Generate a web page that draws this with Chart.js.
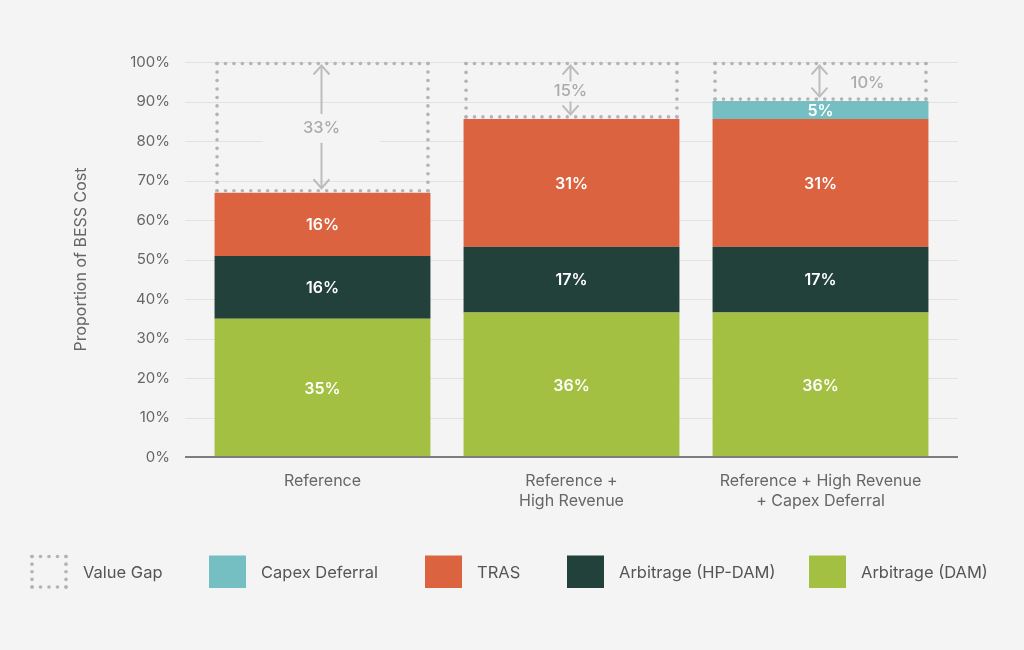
<!DOCTYPE html>
<html><head><meta charset="utf-8">
<script src="https://cdn.jsdelivr.net/npm/chart.js@4/dist/chart.umd.min.js"></script>
<style>html,body{margin:0;padding:0;background:#f4f4f4;}#wrap{width:1024px;height:650px;position:relative;}</style>
</head><body><div id="wrap"><canvas id="c" width="1024" height="650"></canvas></div>
<script>
const categories = [['Reference'], ['Reference +', 'High Revenue'], ['Reference + High Revenue', '+ Capex Deferral']];
const seriesNames = ['Arbitrage (DAM)', 'Arbitrage (HP-DAM)', 'TRAS', 'Capex Deferral', 'Value Gap'];
const damValues = [35.0, 36.6, 36.6];
const hpDamValues = [15.9, 16.6, 16.6];
const trasValues = [16.0, 32.4, 32.4];
const capexValues = [null, null, 4.5];
const gapValues = [33.1, 14.4, 9.9];
const damLabels = ['35%', '36%', '36%'];
const hpDamLabels = ['16%', '17%', '17%'];
const trasLabels = ['16%', '31%', '31%'];
const capexLabels = ['', '', '5%'];
const gapLabels = ['33%', '15%', '10%'];
const yTickLabels = ['0%', '10%', '20%', '30%', '40%', '50%', '60%', '70%', '80%', '90%', '100%'];

const colors = ['#a3c043', '#22413b', '#db6340', '#75bfc2'];
const BG = '#f4f4f4';
Chart.defaults.font.family = 'Inter, "Noto Sans", sans-serif';

function dotLine(ctx, x1, y1, x2, y2, sp, r) {
  const len = Math.hypot(x2 - x1, y2 - y1);
  const n = Math.max(1, Math.round(len / sp));
  for (let i = 0; i <= n; i++) {
    const t = i / n;
    ctx.beginPath();
    ctx.arc(x1 + (x2 - x1) * t, y1 + (y2 - y1) * t, r, 0, Math.PI * 2);
    ctx.fill();
  }
}
function dotRect(ctx, l, t, r, b, sp, rad) {
  dotLine(ctx, l, t, r, t, sp, rad);
  dotLine(ctx, l, b, r, b, sp, rad);
  dotLine(ctx, l, t, l, b, sp, rad);
  dotLine(ctx, r, t, r, b, sp, rad);
}

// per-bar label placement for the value gap: [mode, bg half-width pad, bg half-height]
const gapLabelStyle = [['center', 40, 14.5], ['center', 4, 10], ['side', 0, 0]];

const customPlugin = {
  id: 'custom',
  beforeDatasetsDraw(chart) {
    const ctx = chart.ctx, y = chart.scales.y, a = chart.chartArea;
    ctx.save();
    ctx.strokeStyle = '#e2e2e2';
    ctx.lineWidth = 1;
    for (let i = 1; i < yTickLabels.length; i++) {
      const py = Math.round(y.getPixelForValue(i * 10)) + 0.5;
      ctx.beginPath();
      ctx.moveTo(a.left - 13, py);
      ctx.lineTo(a.right + 13, py);
      ctx.stroke();
    }
    ctx.restore();
  },
  afterDatasetsDraw(chart) {
    const ctx = chart.ctx, a = chart.chartArea, ys = chart.scales.y;
    ctx.save();
    const labelSets = [damLabels, hpDamLabels, trasLabels, capexLabels];
    ctx.fillStyle = '#ffffff';
    ctx.font = '600 16px Inter, "Noto Sans", sans-serif';
    ctx.textAlign = 'center';
    ctx.textBaseline = 'middle';
    labelSets.forEach((labels, di) => {
      const meta = chart.getDatasetMeta(di);
      meta.data.forEach((el, i) => {
        if (!labels[i]) return;
        ctx.fillText(labels[i], el.x, (el.y + el.base) / 2 + 1);
      });
    });
    const gm = chart.getDatasetMeta(4);
    gm.data.forEach((el, i) => {
      const l = el.x - el.width / 2 + 2.5, r = el.x + el.width / 2 - 2.5;
      const t = el.y + 1.5, b = el.base - 2;
      ctx.fillStyle = '#b3b3b3';
      dotRect(ctx, l, t, r, b, 8.3, 1.8);
      const ax = el.x - 1;
      const at = el.y + 3.5, ab = el.base - 4.5;
      ctx.strokeStyle = '#bdbdbd';
      ctx.lineWidth = 2;
      ctx.lineCap = 'butt';
      ctx.beginPath();
      ctx.moveTo(ax, at + 1); ctx.lineTo(ax, ab - 1);
      ctx.stroke();
      ctx.beginPath();
      ctx.moveTo(ax - 8, at + 9); ctx.lineTo(ax, at); ctx.lineTo(ax + 8, at + 9);
      ctx.moveTo(ax - 8, ab - 9); ctx.lineTo(ax, ab); ctx.lineTo(ax + 8, ab - 9);
      ctx.stroke();
      const st = gapLabelStyle[i];
      ctx.font = '500 16.5px Inter, "Noto Sans", sans-serif';
      const cy = (el.y + el.base) / 2 + 1;
      if (st[0] === 'center') {
        const w = ctx.measureText(gapLabels[i]).width;
        ctx.fillStyle = BG;
        ctx.fillRect(ax - w / 2 - st[1], cy - st[2], w + 2 * st[1], 2 * st[2]);
        ctx.fillStyle = '#ababab';
        ctx.fillText(gapLabels[i], ax, cy);
      } else {
        ctx.fillStyle = '#ababab';
        ctx.fillText(gapLabels[i], ax + 48, cy);
      }
    });
    const zy = ys.getPixelForValue(0);
    ctx.strokeStyle = '#7d7d7d';
    ctx.lineWidth = 2;
    ctx.beginPath();
    ctx.moveTo(a.left - 13, zy); ctx.lineTo(a.right + 13, zy);
    ctx.stroke();
    ctx.restore();
  },
  afterDraw(chart) {
    const ctx = chart.ctx;
    ctx.save();
    const iconX = [31, 209, 425, 567, 809];
    const order = [4, 3, 2, 1, 0];
    const top = 555.5, h = 32.5, w = 37;
    ctx.font = '16.5px Inter, "Noto Sans", sans-serif';
    ctx.textBaseline = 'middle';
    ctx.textAlign = 'left';
    order.forEach((di, k) => {
      const x = iconX[k];
      if (di === 4) {
        ctx.fillStyle = '#b3b3b3';
        dotRect(ctx, x + 1, top + 1, x + 35, top + 31.5, 8.3, 1.8);
      } else {
        ctx.fillStyle = colors[di];
        ctx.fillRect(x, top, w, h);
      }
      ctx.fillStyle = '#555555';
      ctx.fillText(seriesNames[di], x + 52, top + h / 2 + 1);
    });
    ctx.restore();
  }
};

new Chart(document.getElementById('c'), {
  type: 'bar',
  data: {
    labels: categories,
    datasets: [
      { label: seriesNames[0], data: damValues, backgroundColor: colors[0] },
      { label: seriesNames[1], data: hpDamValues, backgroundColor: colors[1] },
      { label: seriesNames[2], data: trasValues, backgroundColor: colors[2] },
      { label: seriesNames[3], data: capexValues, backgroundColor: colors[3] },
      { label: seriesNames[4], data: gapValues, backgroundColor: 'rgba(0,0,0,0)' }
    ]
  },
  options: {
    responsive: false,
    animation: false,
    layout: { padding: { left: 68, top: 62, right: 79, bottom: 133 } },
    datasets: { bar: { barPercentage: 0.867, categoryPercentage: 1, borderWidth: 0 } },
    plugins: { legend: { display: false }, tooltip: { enabled: false } },
    scales: {
      x: {
        stacked: true,
        grid: { display: false, drawTicks: false },
        border: { display: false },
        ticks: { padding: 14, color: '#666666', font: { size: 16, lineHeight: 1.25 } },
        afterFit: s => { s.height = 60; }
      },
      y: {
        stacked: true, min: 0, max: 100,
        grid: { display: false, drawTicks: false },
        border: { display: false },
        ticks: { stepSize: 10, padding: 28, color: '#666666', font: { size: 15 }, callback: (v, i) => yTickLabels[i] },
        title: { display: true, text: 'Proportion of BESS Cost', color: '#666666', font: { size: 16 }, padding: { top: 4, bottom: 0 } },
        afterFit: s => { s.width = 130; }
      }
    }
  },
  plugins: [customPlugin]
});
</script>
</body></html>
